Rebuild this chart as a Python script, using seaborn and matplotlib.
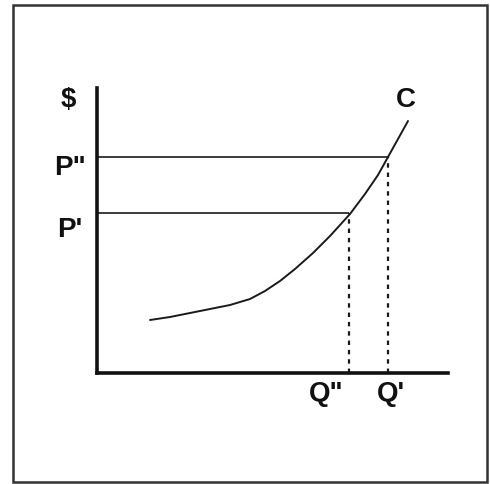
import matplotlib
matplotlib.use("Agg")
import matplotlib.pyplot as plt
import seaborn as sns
import pandas as pd
from matplotlib.patches import Rectangle

# cost curve C (quantity, $)
quantity = [5.3, 7.3, 9.3, 11.3, 13.3, 15.3, 16.8, 18.3, 19.8, 21.6, 23.3, 25.3, 26.8, 28.1, 29.1, 30.1, 31.1]
cost = [5.3, 5.6, 6.0, 6.4, 6.8, 7.4, 8.2, 9.2, 10.4, 12.0, 13.7, 15.9, 17.9, 19.8, 21.6, 23.4, 25.2]

# marked prices / quantities on the curve
price_labels = ['P"', "P'"]
price_levels = [21.6, 16.0]
qty_labels = ['Q"', "Q'"]
qty_levels = [25.2, 29.1]
qty_at_price = [29.1, 25.2]   # where each price line meets the curve

df = pd.DataFrame({"q": quantity, "c": cost})

sns.set_theme(style="white")
plt.rcParams["font.family"] = ["Liberation Sans", "DejaVu Sans"]

fig = plt.figure(figsize=(4.9, 4.84), dpi=100)
ax = fig.add_axes([97 / 490, 111 / 484, 351 / 490, 285 / 484])

sns.lineplot(data=df, x="q", y="c", ax=ax, color="#1a1a1a", linewidth=1.4)

# horizontal price lines from the axis to the curve
ax.hlines(price_levels, 0, qty_at_price, color="#1a1a1a", linewidth=1.2)
# dotted quantity drop lines from the curve to the axis
ax.vlines(qty_levels[0], 0, price_levels[1], color="#1a1a1a", linewidth=1.6, linestyles=(0, (2, 2.2)))
ax.vlines(qty_levels[1], 0, price_levels[0], color="#1a1a1a", linewidth=1.6, linestyles=(0, (2, 2.2)))

ax.set_xlim(0, 35.1)
ax.set_ylim(0, 28.5)
ax.set_xticks([])
ax.set_yticks([])
ax.set_xlabel("")
ax.set_ylabel("")
sns.despine(ax=ax)
for s in ["left", "bottom"]:
    ax.spines[s].set_linewidth(2.6)
    ax.spines[s].set_color("#111111")

tkw = dict(fontsize=20, fontweight="bold", color="#111111", ha="center", va="center", clip_on=False)
ax.text(-2.9, 27.3, "$", **tkw)
ax.text(30.9, 27.3, "C", **tkw)
ax.text(-2.7, 20.5, price_labels[0], **tkw)
ax.text(-2.7, 14.3, price_labels[1], **tkw)
ax.text(22.9, -2.1, qty_labels[0], **tkw)
ax.text(29.4, -2.1, qty_labels[1], **tkw)

# outer frame of the scanned figure
fig.patches.append(Rectangle((13 / 490, 2 / 484), 474 / 490, 477 / 484,
                             transform=fig.transFigure, fill=False,
                             edgecolor="#333333", linewidth=1.8))

fig.savefig("out.png", dpi=100)
